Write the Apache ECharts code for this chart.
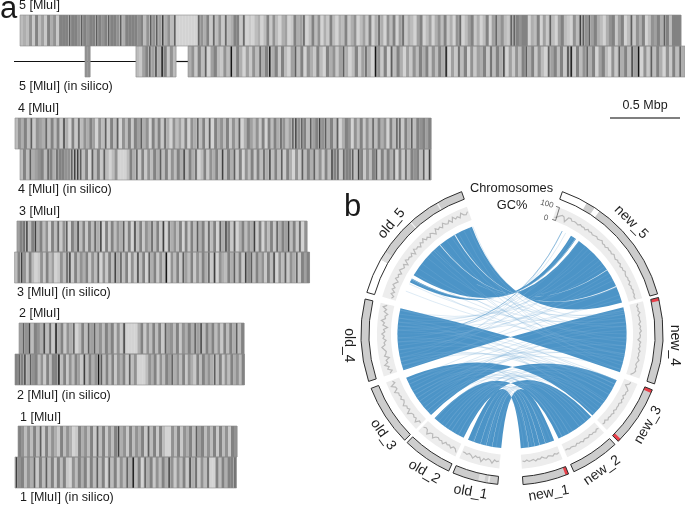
<!DOCTYPE html>
<html><head><meta charset="utf-8">
<style>html,body{margin:0;padding:0;background:#fff}#c{width:685px;height:506px}</style>
<script src="https://cdn.jsdelivr.net/npm/echarts@6/dist/echarts.min.js"></script>
</head><body><div id="c"></div>
<script>
// ---- optical / in-silico map shade strings, one char per bin, 0 light .. 9 dark, '.' none
const chr5Map = '2325162416351666766576566765676657366665625757483527000000075361725172366170102302615203401634702625031620326135024160373052604713204602403526130570246130260473521776566032604172046210528757463203561460271536025463762666';
const chr5SilicoA = '55';
const chr5SilicoB = '2146748396152';
const chr5SilicoC = '35162704621529263041527369361620472605316206351473026147309516072630415263615263904172605143617263804152673615207462618916257360462051736284905172630516273';
const chr4Map = '25362715437262618306172536405271627052616473506261730524160537261706352615270364251606263752478576274685736270365052615272635062771637265646';
const chr4Silico = '2627345627637665578872607261720250002637161526372615263826370261536282637160526162738262716305172637251628671766728615267162637061726562718';
const chr3Map = '467826836250627157063826162738061625371608261537261807352606162736172607386170362538160526173648261705';
const chr3Silico = '26851620151624015278162536152705162837260518260736152905261742615263718053263726185726351628052715371646';
const chr2Map = '4758265382719361537026274735263615180000361526261745261536374826362516263726';
const chr2Silico = '676837562516266926152641826359726261536172500025361526473526153162635372615263526';
const chr1Map = '6525262716253162530163526172615268351625361726162005261536274625261625165';
const chr1Silico = '85625371627261626105263616272607261527392607361526385152618371527006263667';
const shadeColors = ['#d3d3d3','#c8c8c8','#bcbcbc','#aeaeae','#a0a0a0','#929292','#828282','#5e5e5e','#404040','#161616'];

// fragments: [panel, row, start Mbp, end Mbp, shades]
const fragments = [
 [0,0,0.143,4.864,chr5Map],[0,1,0.607,0.643,chr5SilicoA],[0,1,0.971,1.257,chr5SilicoB],[0,1,1.343,4.893,chr5SilicoC],
 [1,0,0.107,3.079,chr4Map],[1,1,0.143,3.079,chr4Silico],
 [2,0,0.121,2.193,chr3Map],[2,1,0.104,2.211,chr3Silico],
 [3,0,0.136,1.743,chr2Map],[3,1,0.107,1.746,chr2Silico],
 [4,0,0.129,1.693,chr1Map],[4,1,0.107,1.689,chr1Silico]
];
const chr5Backbone = [[0.1,0.971],[1.257,1.343]];
const panelTops = [15,118,221,323,426];
const scaleBarMbp = [0,0.5];

// ---- circular panel (clock degrees)
const chromNames  = ['new_5','new_4','new_3','new_2','new_1','old_1','old_2','old_3','old_4','old_5'];
const sectorStart = [19.5,76,111.7,137,158,185.4,204.8,225.3,251.7,286];
const sectorEnd   = [74.6,109.3,135.3,155.8,175.8,203,224,248.9,283.4,340.5];
const labelAngle  = [46.8,94,123.8,146.6,167,194.7,212.5,232,266,312.5];
const labelTilt   = [-45,-90,60,35,10,-10,-30,-55,-90,50];
// overlays on the outer ring: [from, to, colour]
const ringOverlays = [
 [19.5,29.7,'#ffffff'],[33.2,35.4,'#ffffff'],[76,77.3,'#e8404a'],[111.7,113,'#e8404a'],[134,135.3,'#e8404a'],[158,159.2,'#e8404a'],
 [188.6,189.3,'#ececec'],[190.6,193,'#e2e2e2'],[286,299.6,'#ffffff'],[299.6,303,'#dddddd'],[317.5,318,'#f0f0f0'],[330,330.6,'#f0f0f0']
];
const gcNew5 = [22,30,44,56,50,20,58,62,48,55,52,46,58,50,54,44,60,50,56,47,52,58,48,54,62,49,53,45,57,51,55,48,60,52,46,56,50,58,44,54,49,60,51,47,55,50,57,42,53,48,56,50,54,46,52];
const gcNew4 = [60,48,55,50,62,46,54,52,58,44,56,50,60,47,53,51,36,57,49,55,45,59,50,54,48,62,52,46,56,50,58,48,30];
const gcNew3 = [52,46,24,44,58,50,54,42,56,48,60,46,52,50,55,44,58,49,53,47,56,40,52,48];
const gcNew2 = [50,44,56,48,52,42,54,50,46,58,48,52,44,56,50,47,54,46,50];
const gcNew1 = [46,52,42,55,48,44,56,50,40,52,47,58,44,50,54,42,52,46];
const gcOld1 = [48,54,44,70,50,42,56,48,74,46,52,44,66,50,42,54,48,46];
const gcOld2 = [72,50,44,60,46,52,42,64,48,54,44,50,70,46,52,74,48,44,54];
const gcOld3 = [48,42,70,46,54,44,50,74,42,52,46,66,48,40,56,44,52,48,72,46,50,76,42,54];
const gcOld4 = [50,30,58,44,72,46,54,28,60,48,42,56,70,46,52,36,58,48,66,44,54,26,60,50,74,46,52,34,62,48,76,50];
const gcOld5 = [34,22,46,26,50,34,56,44,30,58,42,52,34,60,48,38,56,28,62,46,52,40,58,30,64,48,54,36,60,46,68,44,56,38,62,50,32,66,48,58,42,70,52,46,64,40,72,50,60,44,74,54,48,66];
const gcTracks = [gcNew5,gcNew4,gcNew3,gcNew2,gcNew1,gcOld1,gcOld2,gcOld3,gcOld4,gcOld5];

// synteny ribbons
const ribbonOldLo = [185.4,205,225,251.5,300.8,296.8];
const ribbonOldHi = [202.6,222.6,247.6,283,339.5,299];
const ribbonNewLo = [158.4,136.2,113.8,76.5,35.7,31];
const ribbonNewHi = [175.6,156,135.4,109.5,74,34];
// white streaks inside ribbons: [old angle, new angle, width deg]
const whiteStreaks = [
 [330,65.5,0.5],[321,56,0.4],[316.8,52,0.12],[298.6,33.6,0.1],
 [190,163,0.15],[193,166,0.15],[196,168.5,0.12],[199.5,171.5,0.15]
];
// translocated small links: [old angle, new angle]
const paleLinks = [
 [296,82],[302,90],[308,98],[315,104],[322,80],[328,94],[335,106],[338,86],[298,100],[312,78],[292,96],[318,108],[305,84],[325,101],[332,92],[340,79],
 [256,40],[262,58],[268,28],[274,66],[280,48],[254,70],[260,32],[266,62],[272,44],[278,36],[282,54],[258,26],[264,50],[270,72],[276,42],[252,60],
 [254,118],[258,128],[262,116],[268,132],[272,120],[278,126],[282,116],[276,134],[230,80],[236,92],[240,100],[234,86],[244,104],[228,96],[246,78],[238,108],[226,88],[256,122],[266,125],[274,114],[232,102],[242,84],
 [208,118],[212,130],[216,122],[220,134],[210,126],[228,140],[234,150],[240,144],[246,154],[226,148],[238,138],[244,152],[222,116],[214,114],[206,128],[230,154],[236,142],
 [188,140],[192,150],[196,144],[200,154],[208,162],[214,170],[218,160],[222,174],[212,166],[194,138],[216,172]
];
const strongLinks = [[270,26]];
const trackLabels = [
 ['5 [MluI]',19,6],['5 [MluI] (in silico)',19,87],['4 [MluI]',18,109],['4 [MluI] (in silico)',18,190],
 ['3 [MluI]',19,212],['3 [MluI] (in silico)',17,293],['2 [MluI]',19,314],['2 [MluI] (in silico)',17,396],
 ['1 [MluI]',20,418],['1 [MluI] (in silico)',20,498]
];

const FONT = '"Liberation Sans",Arial,sans-serif';
const pxPerMbp = 140, W = 685;
const grids=[],xAxes=[],yAxes=[],series=[];
panelTops.forEach((top,p)=>{
  grids.push({left:0,width:W,top:top,height:62});
  xAxes.push({gridIndex:p,type:'value',min:0,max:W/pxPerMbp,show:false});
  yAxes.push({gridIndex:p,type:'category',data:['map','silico'],inverse:true,show:false});
  const bins=[], frames=[];
  fragments.filter(f=>f[0]===p).forEach(f=>{
    const n=f[4].length, w=(f[3]-f[2])/n;
    frames.push([f[2],f[1],f[3]]);
    for(let i=0;i<n;i++){ if(f[4][i]!=='.') bins.push([f[2]+i*w,f[1],+f[4][i],w]); }
  });
  if(p===0){
    series.push({type:'custom',coordinateSystem:'cartesian2d',xAxisIndex:0,yAxisIndex:0,silent:true,z:1,
      data:chr5Backbone.map(b=>[b[0],1,b[1]]),
      renderItem:(prm,api)=>{const a=api.coord([api.value(0),api.value(1)]),b=api.coord([api.value(2),api.value(1)]);
        return {type:'line',shape:{x1:a[0],y1:a[1],x2:b[0],y2:b[1]},style:{stroke:'#111',lineWidth:1.2}};}});
  }
  series.push({type:'custom',coordinateSystem:'cartesian2d',xAxisIndex:p,yAxisIndex:p,silent:true,z:2,
    data:bins,
    renderItem:(prm,api)=>{
      const c=api.coord([api.value(0),api.value(1)]), bw=api.size([api.value(3),0])[0], s=api.value(2);
      if(s>=7){
        return {type:'group',children:[
          {type:'rect',shape:{x:c[0],y:c[1]-15.5,width:bw+0.3,height:31},style:{fill:shadeColors[3]}},
          {type:'rect',shape:{x:c[0]+bw/2-0.7,y:c[1]-15.5,width:1.4,height:31},style:{fill:shadeColors[s]}}
        ]};
      }
      return {type:'rect',shape:{x:c[0],y:c[1]-15.5,width:bw+0.3,height:31},style:{fill:shadeColors[s]}};
    }});
  series.push({type:'custom',coordinateSystem:'cartesian2d',xAxisIndex:p,yAxisIndex:p,silent:true,z:3,
    data:frames,
    renderItem:(prm,api)=>{
      const a=api.coord([api.value(0),api.value(1)]), b=api.coord([api.value(2),api.value(1)]);
      return {type:'rect',shape:{x:a[0],y:a[1]-15.5,width:b[0]-a[0],height:31},style:{fill:'none',stroke:'#8c8c8c',lineWidth:0.6}};
    }});
});
// scale bar
grids.push({left:610,width:70,top:113,height:10});
xAxes.push({gridIndex:5,type:'value',min:0,max:0.5,show:false});
yAxes.push({gridIndex:5,type:'value',min:-1,max:1,show:false});
series.push({type:'line',xAxisIndex:5,yAxisIndex:5,symbol:'none',silent:true,lineStyle:{color:'#000',width:1.2},data:scaleBarMbp.map(v=>[v,0])});

// ---- circular
const R_OUT=151,R_RING=143,R_GC_OUT=135,R_GC_IN=121,R_LINK=114.5;
const f1=v=>v.toFixed(2);
function band(api,r1,r0,a0,a1){
  const p=api.coord([r1,a0]),q=api.coord([r1,a1]),s=api.coord([r0,a1]),t=api.coord([r0,a0]);
  const large=(a1-a0)>180?1:0;
  return `M${f1(p[0])} ${f1(p[1])}A${r1} ${r1} 0 ${large} 1 ${f1(q[0])} ${f1(q[1])}L${f1(s[0])} ${f1(s[1])}A${r0} ${r0} 0 ${large} 0 ${f1(t[0])} ${f1(t[1])}Z`;
}
function ribbon(api,aLo,aHi,bLo,bHi){
  const r=R_LINK,c=api.coord([0,0]);
  const p=api.coord([r,aLo]),q=api.coord([r,aHi]),s=api.coord([r,bHi]),t=api.coord([r,bLo]);
  return `M${f1(p[0])} ${f1(p[1])}A${r} ${r} 0 0 1 ${f1(q[0])} ${f1(q[1])}Q${f1(c[0])} ${f1(c[1])} ${f1(s[0])} ${f1(s[1])}A${r} ${r} 0 0 0 ${f1(t[0])} ${f1(t[1])}Q${f1(c[0])} ${f1(c[1])} ${f1(p[0])} ${f1(p[1])}Z`;
}
function polarSeries(data,z,fn){
  return {type:'custom',coordinateSystem:'polar',polarIndex:0,silent:true,z:z,data:data,renderItem:fn};
}
const idx=a=>a.map((_,i)=>[1,1,i]);
// GC background
series.push(polarSeries(idx(chromNames),10,(p,api)=>{const i=p.dataIndex;
  return {type:'path',shape:{pathData:band(api,R_GC_OUT,R_GC_IN,sectorStart[i],sectorEnd[i])},style:{fill:'#ededed'}};}));
// GC traces
series.push(polarSeries(idx(chromNames),11,(p,api)=>{const i=p.dataIndex,g=gcTracks[i];
  let d='';
  g.forEach((v,k)=>{const a=sectorStart[i]+(sectorEnd[i]-sectorStart[i])*(k+0.5)/g.length;
    const c=api.coord([R_GC_IN+(R_GC_OUT-R_GC_IN)*v/100,a]);d+=(k?'L':'M')+f1(c[0])+' '+f1(c[1]);});
  return {type:'path',shape:{pathData:d},style:{fill:'none',stroke:'#bababa',lineWidth:1.2}};}));
// outer ring
series.push(polarSeries(idx(chromNames),12,(p,api)=>{const i=p.dataIndex;
  return {type:'path',shape:{pathData:band(api,R_OUT,R_RING,sectorStart[i],sectorEnd[i])},style:{fill:'#cdcdcd'}};}));
series.push(polarSeries(idx(ringOverlays),13,(p,api)=>{const o=ringOverlays[p.dataIndex];
  return {type:'path',shape:{pathData:band(api,R_OUT,R_RING,o[0],o[1])},style:{fill:o[2]}};}));
series.push(polarSeries(idx(chromNames),14,(p,api)=>{const i=p.dataIndex;
  return {type:'path',shape:{pathData:band(api,R_OUT,R_RING,sectorStart[i],sectorEnd[i])},style:{fill:'none',stroke:'#2e2e2e',lineWidth:1}};}));
// ribbons
series.push(polarSeries(idx(ribbonOldLo),15,(p,api)=>{const i=p.dataIndex;
  return {type:'path',shape:{pathData:ribbon(api,ribbonOldLo[i],ribbonOldHi[i],ribbonNewLo[i],ribbonNewHi[i])},style:{fill:'#4c94c7'}};}));
series.push(polarSeries(idx(whiteStreaks),16,(p,api)=>{const s=whiteStreaks[p.dataIndex];
  return {type:'path',shape:{pathData:ribbon(api,s[0]-s[2]/2,s[0]+s[2]/2,s[1]-s[2]/2,s[1]+s[2]/2)},style:{fill:'#ffffff',opacity:0.85}};}));
const linkPath=(api,l)=>{const a=api.coord([R_LINK,l[0]]),b=api.coord([R_LINK,l[1]]),c=api.coord([0,0]);
  return `M${f1(a[0])} ${f1(a[1])}Q${f1(c[0])} ${f1(c[1])} ${f1(b[0])} ${f1(b[1])}`;};
series.push(polarSeries(idx(paleLinks),17,(p,api)=>({type:'path',shape:{pathData:linkPath(api,paleLinks[p.dataIndex])},
  style:{fill:'none',stroke:'rgba(125,175,215,0.32)',lineWidth:0.8}})));
series.push(polarSeries(idx(strongLinks),17,(p,api)=>({type:'path',shape:{pathData:linkPath(api,strongLinks[p.dataIndex])},
  style:{fill:'none',stroke:'rgba(76,148,199,0.8)',lineWidth:0.7}})));
// GC axis bracket
series.push(polarSeries([[1,1]],18,(p,api)=>{
  const a=api.coord([135,19]),b=api.coord([135,20.6]),c=api.coord([121.5,21]),d=api.coord([121.5,19.3]);
  return {type:'path',shape:{pathData:`M${f1(a[0])} ${f1(a[1])}L${f1(b[0])} ${f1(b[1])}L${f1(c[0])} ${f1(c[1])}L${f1(d[0])} ${f1(d[1])}`},style:{fill:'none',stroke:'#444',lineWidth:0.7}};}));
// chromosome names
series.push(polarSeries(idx(chromNames),19,(p,api)=>{const i=p.dataIndex;
  const c=api.coord([163.5,labelAngle[i]]);
  return {type:'text',x:c[0],y:c[1],rotation:labelTilt[i]*Math.PI/180,
    style:{text:chromNames[i],x:0,y:0,align:'center',verticalAlign:'middle',font:'14px '+FONT,fill:'#1e1e1e'}};}));

const txt=(s,x,y,size,extra)=>Object.assign({type:'text',x:x,y:y,silent:true,
  style:{text:s,x:0,y:0,font:size+'px '+FONT,fill:'#1a1a1a',verticalAlign:'middle',align:'left'}},extra||{});
const graphics = trackLabels.map(l=>txt(l[0],l[1],l[2],12.5));
graphics.push(txt('a',0,9,31));
graphics.push(txt('b',344,207,31));
graphics.push({type:'text',x:645,y:106,silent:true,style:{text:'0.5 Mbp',x:0,y:0,align:'center',verticalAlign:'middle',font:'12.5px '+FONT,fill:'#1a1a1a'}});
graphics.push({type:'text',x:511.5,y:188,silent:true,style:{text:'Chromosomes',x:0,y:0,align:'center',verticalAlign:'middle',font:'12.8px '+FONT,fill:'#1a1a1a'}});
graphics.push({type:'text',x:512,y:205,silent:true,style:{text:'GC%',x:0,y:0,align:'center',verticalAlign:'middle',font:'12.8px '+FONT,fill:'#1a1a1a'}});
graphics.push({type:'text',x:547,y:204,rotation:-0.25,silent:true,style:{text:'100',x:0,y:0,align:'center',verticalAlign:'middle',font:'8px '+FONT,fill:'#555'}});
graphics.push({type:'text',x:546,y:218,rotation:-0.25,silent:true,style:{text:'0',x:0,y:0,align:'center',verticalAlign:'middle',font:'8px '+FONT,fill:'#555'}});

const chart=echarts.init(document.getElementById('c'),null,{renderer:'canvas'});
chart.setOption({
  animation:false,backgroundColor:'#ffffff',
  grid:grids,xAxis:xAxes,yAxis:yAxes,
  polar:{center:[512,334],radius:[0,R_OUT]},
  angleAxis:{type:'value',min:0,max:360,startAngle:90,clockwise:true,show:false},
  radiusAxis:{type:'value',min:0,max:R_OUT,show:false},
  series:series,
  graphic:{elements:graphics}
});
</script></body></html>
